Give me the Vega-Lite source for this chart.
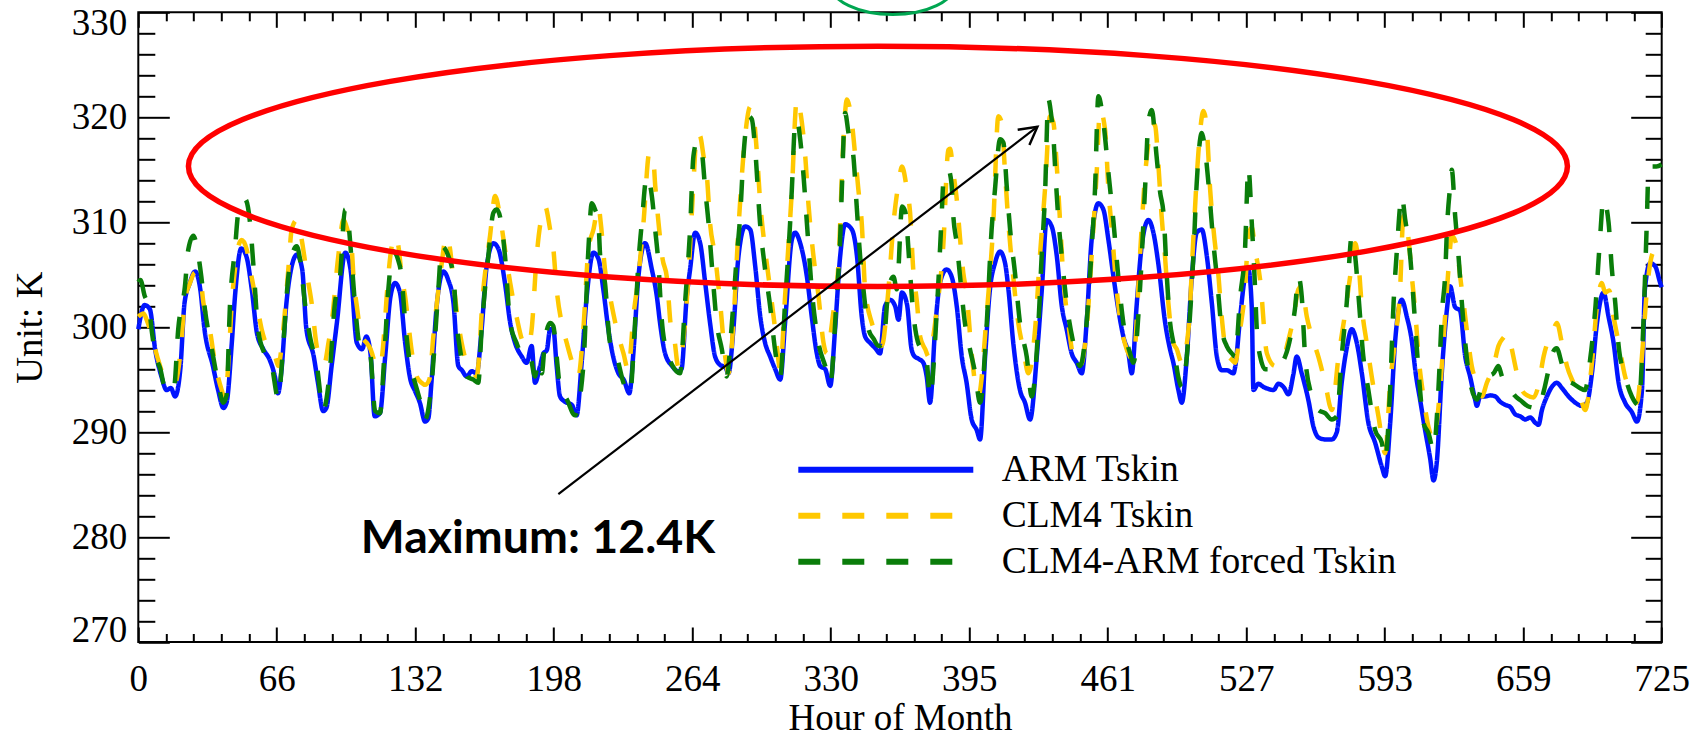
{
  "$schema": "https://vega.github.io/schema/vega-lite/v6.json",
  "width": 1523.4,
  "height": 629.7,
  "autosize": {"type": "none"},
  "padding": {"left": 138.3, "top": 12.3, "right": 38.3, "bottom": 96},
  "background": "white",
  "config": {
    "view": {"stroke": "black", "strokeWidth": 2},
    "axis": {"grid": false, "domain": false, "tickColor": "black", "tickWidth": 2, "labelColor": "black", "titleColor": "black", "labelFont": "Liberation Serif", "titleFont": "Liberation Serif", "labelFontSize": 37, "titleFontSize": 37, "titleFontWeight": "normal", "labelFlush": false, "labelOverlap": false}
  },
  "datasets": {
    "lines": [
      {"series":"ARM Tskin","hour":0,"K":299.8},{"series":"ARM Tskin","hour":3,"K":302.1},{"series":"ARM Tskin","hour":5.5,"K":301.7},{"series":"ARM Tskin","hour":8,"K":297.9},{"series":"ARM Tskin","hour":11,"K":295.3},{"series":"ARM Tskin","hour":13.5,"K":294.0},{"series":"ARM Tskin","hour":15.5,"K":294.2},{"series":"ARM Tskin","hour":17.5,"K":293.4},{"series":"ARM Tskin","hour":20,"K":296},{"series":"ARM Tskin","hour":22,"K":302.3},{"series":"ARM Tskin","hour":24.5,"K":304.2},{"series":"ARM Tskin","hour":27,"K":305.3},{"series":"ARM Tskin","hour":29.5,"K":303.6},{"series":"ARM Tskin","hour":31.5,"K":299.8},{"series":"ARM Tskin","hour":35.5,"K":296.3},{"series":"ARM Tskin","hour":38,"K":294.0},{"series":"ARM Tskin","hour":40.5,"K":292.3},{"series":"ARM Tskin","hour":42,"K":292.8},{"series":"ARM Tskin","hour":44.5,"K":298.5},{"series":"ARM Tskin","hour":46,"K":302.9},{"series":"ARM Tskin","hour":49,"K":307.5},{"series":"ARM Tskin","hour":51.5,"K":306.7},{"series":"ARM Tskin","hour":54,"K":303.6},{"series":"ARM Tskin","hour":56.5,"K":299.4},{"series":"ARM Tskin","hour":59.5,"K":297.9},{"series":"ARM Tskin","hour":62.5,"K":296.9},{"series":"ARM Tskin","hour":65,"K":295.3},{"series":"ARM Tskin","hour":66.5,"K":293.7},{"series":"ARM Tskin","hour":68,"K":295.6},{"series":"ARM Tskin","hour":70.5,"K":302.3},{"series":"ARM Tskin","hour":73,"K":305.8},{"series":"ARM Tskin","hour":75.5,"K":306.9},{"series":"ARM Tskin","hour":78,"K":305.5},{"series":"ARM Tskin","hour":80,"K":299.8},{"series":"ARM Tskin","hour":83.5,"K":297.2},{"series":"ARM Tskin","hour":85.5,"K":294.7},{"series":"ARM Tskin","hour":88,"K":292.0},{"series":"ARM Tskin","hour":89.5,"K":292.3},{"series":"ARM Tskin","hour":92,"K":296.3},{"series":"ARM Tskin","hour":94.5,"K":300.4},{"series":"ARM Tskin","hour":98.5,"K":307.1},{"series":"ARM Tskin","hour":101,"K":305.5},{"series":"ARM Tskin","hour":104,"K":298.5},{"series":"ARM Tskin","hour":106.5,"K":297.9},{"series":"ARM Tskin","hour":108.5,"K":299.1},{"series":"ARM Tskin","hour":110.5,"K":297.5},{"series":"ARM Tskin","hour":112.5,"K":291.5},{"series":"ARM Tskin","hour":115,"K":291.8},{"series":"ARM Tskin","hour":117.5,"K":297.2},{"series":"ARM Tskin","hour":120,"K":302.9},{"series":"ARM Tskin","hour":122.2,"K":304.2},{"series":"ARM Tskin","hour":124.5,"K":303.3},{"series":"ARM Tskin","hour":127,"K":298.5},{"series":"ARM Tskin","hour":129.5,"K":295},{"series":"ARM Tskin","hour":131.5,"K":294},{"series":"ARM Tskin","hour":134,"K":292.8},{"series":"ARM Tskin","hour":136.5,"K":291.0},{"series":"ARM Tskin","hour":138,"K":291.3},{"series":"ARM Tskin","hour":139.5,"K":294.7},{"series":"ARM Tskin","hour":142,"K":302},{"series":"ARM Tskin","hour":145.2,"K":305.3},{"series":"ARM Tskin","hour":147.5,"K":304.5},{"series":"ARM Tskin","hour":150,"K":302.3},{"series":"ARM Tskin","hour":152.3,"K":296.3},{"series":"ARM Tskin","hour":154,"K":295.9},{"series":"ARM Tskin","hour":156.3,"K":295.3},{"series":"ARM Tskin","hour":158.7,"K":295.8},{"series":"ARM Tskin","hour":161,"K":295.6},{"series":"ARM Tskin","hour":163.4,"K":299.8},{"series":"ARM Tskin","hour":165.8,"K":305.8},{"series":"ARM Tskin","hour":169,"K":308.0},{"series":"ARM Tskin","hour":171.5,"K":307.4},{"series":"ARM Tskin","hour":174.5,"K":304.2},{"series":"ARM Tskin","hour":177,"K":300.4},{"series":"ARM Tskin","hour":179.3,"K":298.5},{"series":"ARM Tskin","hour":182.5,"K":297.2},{"series":"ARM Tskin","hour":184.8,"K":296.6},{"series":"ARM Tskin","hour":187.2,"K":298.2},{"series":"ARM Tskin","hour":188.8,"K":294.7},{"series":"ARM Tskin","hour":191.2,"K":296.3},{"series":"ARM Tskin","hour":192.8,"K":297.5},{"series":"ARM Tskin","hour":194.4,"K":297.8},{"series":"ARM Tskin","hour":196,"K":299.8},{"series":"ARM Tskin","hour":197.5,"K":299.8},{"series":"ARM Tskin","hour":199.1,"K":296.3},{"series":"ARM Tskin","hour":200.7,"K":293.4},{"series":"ARM Tskin","hour":203,"K":292.9},{"series":"ARM Tskin","hour":206.3,"K":292.6},{"series":"ARM Tskin","hour":208.6,"K":291.6},{"series":"ARM Tskin","hour":211,"K":296.6},{"series":"ARM Tskin","hour":213.4,"K":302.9},{"series":"ARM Tskin","hour":216.6,"K":307.1},{"series":"ARM Tskin","hour":219,"K":306.5},{"series":"ARM Tskin","hour":221.3,"K":303.6},{"series":"ARM Tskin","hour":223.7,"K":299.8},{"series":"ARM Tskin","hour":226,"K":297.2},{"series":"ARM Tskin","hour":228.5,"K":295.6},{"series":"ARM Tskin","hour":231,"K":295},{"series":"ARM Tskin","hour":233.7,"K":293.7},{"series":"ARM Tskin","hour":235.6,"K":297.5},{"series":"ARM Tskin","hour":238,"K":304.8},{"series":"ARM Tskin","hour":241.2,"K":308},{"series":"ARM Tskin","hour":244.4,"K":305.5},{"series":"ARM Tskin","hour":246.8,"K":302.9},{"series":"ARM Tskin","hour":248.3,"K":300.4},{"series":"ARM Tskin","hour":250.7,"K":297.5},{"series":"ARM Tskin","hour":254,"K":296.3},{"series":"ARM Tskin","hour":257,"K":295.8},{"series":"ARM Tskin","hour":258.5,"K":296},{"series":"ARM Tskin","hour":261,"K":302.9},{"series":"ARM Tskin","hour":262.6,"K":305.5},{"series":"ARM Tskin","hour":265,"K":309},{"series":"ARM Tskin","hour":267.4,"K":308.0},{"series":"ARM Tskin","hour":269.8,"K":304.2},{"series":"ARM Tskin","hour":272.1,"K":300.4},{"series":"ARM Tskin","hour":274.5,"K":297.2},{"series":"ARM Tskin","hour":276.9,"K":296.4},{"series":"ARM Tskin","hour":279.3,"K":296.2},{"series":"ARM Tskin","hour":280.9,"K":295.6},{"series":"ARM Tskin","hour":283.2,"K":299.8},{"series":"ARM Tskin","hour":285.6,"K":306.7},{"series":"ARM Tskin","hour":288.8,"K":309.6},{"series":"ARM Tskin","hour":291.2,"K":309.3},{"series":"ARM Tskin","hour":293.6,"K":305.8},{"series":"ARM Tskin","hour":296,"K":301},{"series":"ARM Tskin","hour":298.3,"K":298.5},{"series":"ARM Tskin","hour":300.7,"K":297.2},{"series":"ARM Tskin","hour":303.1,"K":296.0},{"series":"ARM Tskin","hour":305.5,"K":295.0},{"series":"ARM Tskin","hour":307.8,"K":300.4},{"series":"ARM Tskin","hour":311,"K":308.3},{"series":"ARM Tskin","hour":312.6,"K":309.0},{"series":"ARM Tskin","hour":315,"K":308.0},{"series":"ARM Tskin","hour":318.2,"K":304.8},{"series":"ARM Tskin","hour":320.5,"K":301},{"series":"ARM Tskin","hour":322.9,"K":297.5},{"series":"ARM Tskin","hour":324.5,"K":296.3},{"series":"ARM Tskin","hour":326.9,"K":296.0},{"series":"ARM Tskin","hour":329.3,"K":294.4},{"series":"ARM Tskin","hour":331.6,"K":299.8},{"series":"ARM Tskin","hour":334,"K":306.7},{"series":"ARM Tskin","hour":336.4,"K":309.8},{"series":"ARM Tskin","hour":339.6,"K":309.3},{"series":"ARM Tskin","hour":342,"K":306.8},{"series":"ARM Tskin","hour":344.3,"K":301},{"series":"ARM Tskin","hour":345.9,"K":299.1},{"series":"ARM Tskin","hour":348.3,"K":298.5},{"series":"ARM Tskin","hour":350.7,"K":298.0},{"series":"ARM Tskin","hour":353,"K":297.5},{"series":"ARM Tskin","hour":355.4,"K":302},{"series":"ARM Tskin","hour":357.8,"K":302.6},{"series":"ARM Tskin","hour":360.2,"K":302},{"series":"ARM Tskin","hour":361.8,"K":300.7},{"series":"ARM Tskin","hour":363.4,"K":303.3},{"series":"ARM Tskin","hour":365.8,"K":302.2},{"series":"ARM Tskin","hour":368,"K":297.9},{"series":"ARM Tskin","hour":369.5,"K":297.2},{"series":"ARM Tskin","hour":371.2,"K":297.0},{"series":"ARM Tskin","hour":373.6,"K":296.6},{"series":"ARM Tskin","hour":375.2,"K":295.3},{"series":"ARM Tskin","hour":376.8,"K":292.8},{"series":"ARM Tskin","hour":379.2,"K":299.8},{"series":"ARM Tskin","hour":381.5,"K":304.2},{"series":"ARM Tskin","hour":384.7,"K":305.5},{"series":"ARM Tskin","hour":387.1,"K":304.8},{"series":"ARM Tskin","hour":389.5,"K":302},{"series":"ARM Tskin","hour":391.9,"K":297.2},{"series":"ARM Tskin","hour":394.2,"K":294.7},{"series":"ARM Tskin","hour":396.6,"K":291.2},{"series":"ARM Tskin","hour":399,"K":290.2},{"series":"ARM Tskin","hour":400.6,"K":289.3},{"series":"ARM Tskin","hour":403,"K":297.2},{"series":"ARM Tskin","hour":405.3,"K":303.6},{"series":"ARM Tskin","hour":407.7,"K":306.1},{"series":"ARM Tskin","hour":410.1,"K":307.2},{"series":"ARM Tskin","hour":412.5,"K":306.1},{"series":"ARM Tskin","hour":414.1,"K":303.6},{"series":"ARM Tskin","hour":416.4,"K":298.5},{"series":"ARM Tskin","hour":419.6,"K":294},{"series":"ARM Tskin","hour":422,"K":292.8},{"series":"ARM Tskin","hour":424.4,"K":291.2},{"series":"ARM Tskin","hour":427.6,"K":297.2},{"series":"ARM Tskin","hour":430,"K":303.6},{"series":"ARM Tskin","hour":432.3,"K":310.2},{"series":"ARM Tskin","hour":434.7,"K":309.6},{"series":"ARM Tskin","hour":437.1,"K":306.8},{"series":"ARM Tskin","hour":439.5,"K":302},{"series":"ARM Tskin","hour":441.8,"K":299.8},{"series":"ARM Tskin","hour":444.2,"K":297.5},{"series":"ARM Tskin","hour":446.6,"K":296.6},{"series":"ARM Tskin","hour":449,"K":295.6},{"series":"ARM Tskin","hour":451.3,"K":300.4},{"series":"ARM Tskin","hour":453.7,"K":308.3},{"series":"ARM Tskin","hour":456.9,"K":311.8},{"series":"ARM Tskin","hour":459.3,"K":311.2},{"series":"ARM Tskin","hour":461.7,"K":308.3},{"series":"ARM Tskin","hour":464.1,"K":304.8},{"series":"ARM Tskin","hour":466.4,"K":301.7},{"series":"ARM Tskin","hour":468.8,"K":299.1},{"series":"ARM Tskin","hour":471.2,"K":297.5},{"series":"ARM Tskin","hour":472.8,"K":295.6},{"series":"ARM Tskin","hour":475.1,"K":302},{"series":"ARM Tskin","hour":477.5,"K":307.7},{"series":"ARM Tskin","hour":480.7,"K":310.2},{"series":"ARM Tskin","hour":483.1,"K":309.0},{"series":"ARM Tskin","hour":485.4,"K":306.1},{"series":"ARM Tskin","hour":488.7,"K":300.4},{"series":"ARM Tskin","hour":491,"K":297.9},{"series":"ARM Tskin","hour":492.6,"K":296.6},{"series":"ARM Tskin","hour":495,"K":294.0},{"series":"ARM Tskin","hour":496.6,"K":292.8},{"series":"ARM Tskin","hour":499,"K":297.2},{"series":"ARM Tskin","hour":501.4,"K":304.8},{"series":"ARM Tskin","hour":503.7,"K":309},{"series":"ARM Tskin","hour":506.1,"K":309.3},{"series":"ARM Tskin","hour":508.5,"K":306.8},{"series":"ARM Tskin","hour":510.9,"K":302.3},{"series":"ARM Tskin","hour":513.3,"K":297.2},{"series":"ARM Tskin","hour":515.6,"K":295.9},{"series":"ARM Tskin","hour":518,"K":295.9},{"series":"ARM Tskin","hour":521.2,"K":295.6},{"series":"ARM Tskin","hour":522,"K":296.2},{"series":"ARM Tskin","hour":524.4,"K":301},{"series":"ARM Tskin","hour":526.7,"K":304.8},{"series":"ARM Tskin","hour":528.3,"K":305.5},{"series":"ARM Tskin","hour":529.9,"K":301.9},{"series":"ARM Tskin","hour":530.7,"K":294},{"series":"ARM Tskin","hour":533,"K":294.6},{"series":"ARM Tskin","hour":535.5,"K":294.3},{"series":"ARM Tskin","hour":538,"K":294.1},{"series":"ARM Tskin","hour":540.2,"K":294.0},{"series":"ARM Tskin","hour":542.6,"K":294.6},{"series":"ARM Tskin","hour":545,"K":294.3},{"series":"ARM Tskin","hour":547.4,"K":293.6},{"series":"ARM Tskin","hour":549.7,"K":295.5},{"series":"ARM Tskin","hour":551.3,"K":297.2},{"series":"ARM Tskin","hour":553.7,"K":295.6},{"series":"ARM Tskin","hour":556.9,"K":293},{"series":"ARM Tskin","hour":559.3,"K":290.5},{"series":"ARM Tskin","hour":561.6,"K":289.5},{"series":"ARM Tskin","hour":564.8,"K":289.3},{"series":"ARM Tskin","hour":568,"K":289.3},{"series":"ARM Tskin","hour":570.4,"K":290},{"series":"ARM Tskin","hour":572.7,"K":294.7},{"series":"ARM Tskin","hour":575.1,"K":298},{"series":"ARM Tskin","hour":577.5,"K":299.8},{"series":"ARM Tskin","hour":579.9,"K":298.5},{"series":"ARM Tskin","hour":582.3,"K":295.6},{"series":"ARM Tskin","hour":585.4,"K":290.9},{"series":"ARM Tskin","hour":588.6,"K":289},{"series":"ARM Tskin","hour":591.8,"K":286.7},{"series":"ARM Tskin","hour":593.4,"K":285.8},{"series":"ARM Tskin","hour":595.8,"K":290.9},{"series":"ARM Tskin","hour":598.2,"K":298.8},{"series":"ARM Tskin","hour":601.3,"K":302.6},{"series":"ARM Tskin","hour":603.7,"K":301},{"series":"ARM Tskin","hour":606,"K":298.8},{"series":"ARM Tskin","hour":608,"K":295.5},{"series":"ARM Tskin","hour":610,"K":293.1},{"series":"ARM Tskin","hour":612.4,"K":290.2},{"series":"ARM Tskin","hour":614.8,"K":287.5},{"series":"ARM Tskin","hour":616.4,"K":285.4},{"series":"ARM Tskin","hour":618,"K":287.2},{"series":"ARM Tskin","hour":620.4,"K":295.8},{"series":"ARM Tskin","hour":622.8,"K":301.7},{"series":"ARM Tskin","hour":624.3,"K":303.9},{"series":"ARM Tskin","hour":626.7,"K":301.9},{"series":"ARM Tskin","hour":629,"K":301.6},{"series":"ARM Tskin","hour":631.5,"K":297.2},{"series":"ARM Tskin","hour":633.8,"K":295.3},{"series":"ARM Tskin","hour":636.2,"K":293.1},{"series":"ARM Tskin","hour":637,"K":292.5},{"series":"ARM Tskin","hour":638.6,"K":293.4},{"series":"ARM Tskin","hour":641,"K":293.4},{"series":"ARM Tskin","hour":643.4,"K":293.5},{"series":"ARM Tskin","hour":645.8,"K":293.4},{"series":"ARM Tskin","hour":648.1,"K":292.9},{"series":"ARM Tskin","hour":650.5,"K":292.6},{"series":"ARM Tskin","hour":652.9,"K":292.4},{"series":"ARM Tskin","hour":655.3,"K":291.7},{"series":"ARM Tskin","hour":657.7,"K":291.5},{"series":"ARM Tskin","hour":660.1,"K":291.2},{"series":"ARM Tskin","hour":662.4,"K":291.4},{"series":"ARM Tskin","hour":664.8,"K":290.9},{"series":"ARM Tskin","hour":666.4,"K":290.7},{"series":"ARM Tskin","hour":668,"K":292.1},{"series":"ARM Tskin","hour":670.4,"K":293.4},{"series":"ARM Tskin","hour":672.7,"K":294.3},{"series":"ARM Tskin","hour":675.1,"K":294.7},{"series":"ARM Tskin","hour":677.5,"K":294.2},{"series":"ARM Tskin","hour":680.7,"K":293.4},{"series":"ARM Tskin","hour":683.9,"K":292.8},{"series":"ARM Tskin","hour":687,"K":292.5},{"series":"ARM Tskin","hour":689.4,"K":292.8},{"series":"ARM Tskin","hour":691.8,"K":295.6},{"series":"ARM Tskin","hour":694.2,"K":300.4},{"series":"ARM Tskin","hour":697.3,"K":303.3},{"series":"ARM Tskin","hour":699.7,"K":301.0},{"series":"ARM Tskin","hour":702.1,"K":298.5},{"series":"ARM Tskin","hour":704.5,"K":294.7},{"series":"ARM Tskin","hour":707.6,"K":292.8},{"series":"ARM Tskin","hour":710.8,"K":291.9},{"series":"ARM Tskin","hour":713.2,"K":291.0},{"series":"ARM Tskin","hour":715.6,"K":294},{"series":"ARM Tskin","hour":717,"K":303.6},{"series":"ARM Tskin","hour":719.5,"K":306.1},{"series":"ARM Tskin","hour":721.9,"K":305.8},{"series":"ARM Tskin","hour":724.3,"K":304.2},{"series":"ARM Tskin","hour":725,"K":303.8},

      {"series":"CLM4 Tskin","hour":0,"K":301.0},{"series":"CLM4 Tskin","hour":2.5,"K":301.3},{"series":"CLM4 Tskin","hour":4,"K":300.7},{"series":"CLM4 Tskin","hour":6.5,"K":299.1},{"series":"CLM4 Tskin","hour":9,"K":297.2},{"series":"CLM4 Tskin","hour":12.5,"K":295.3},{"series":"CLM4 Tskin","hour":15.9,"K":295.0},{"series":"CLM4 Tskin","hour":17.5,"K":294.7},{"series":"CLM4 Tskin","hour":20,"K":297.5},{"series":"CLM4 Tskin","hour":22.2,"K":302.6},{"series":"CLM4 Tskin","hour":24.6,"K":304.2},{"series":"CLM4 Tskin","hour":27,"K":305.2},{"series":"CLM4 Tskin","hour":29.4,"K":304.8},{"series":"CLM4 Tskin","hour":31,"K":302.3},{"series":"CLM4 Tskin","hour":34,"K":299.8},{"series":"CLM4 Tskin","hour":36.5,"K":296.6},{"series":"CLM4 Tskin","hour":39.7,"K":294.0},{"series":"CLM4 Tskin","hour":41.3,"K":293.2},{"series":"CLM4 Tskin","hour":43,"K":297},{"series":"CLM4 Tskin","hour":44.4,"K":302},{"series":"CLM4 Tskin","hour":46,"K":305.5},{"series":"CLM4 Tskin","hour":47.6,"K":307.7},{"series":"CLM4 Tskin","hour":49.2,"K":308.3},{"series":"CLM4 Tskin","hour":51.6,"K":307.4},{"series":"CLM4 Tskin","hour":53.9,"K":304.8},{"series":"CLM4 Tskin","hour":56.3,"K":302.3},{"series":"CLM4 Tskin","hour":58.7,"K":299.8},{"series":"CLM4 Tskin","hour":61.9,"K":297.9},{"series":"CLM4 Tskin","hour":65.1,"K":297.2},{"series":"CLM4 Tskin","hour":66.6,"K":296.3},{"series":"CLM4 Tskin","hour":69,"K":299.8},{"series":"CLM4 Tskin","hour":71.4,"K":305.5},{"series":"CLM4 Tskin","hour":73,"K":309.3},{"series":"CLM4 Tskin","hour":75.4,"K":310.2},{"series":"CLM4 Tskin","hour":77.8,"K":308.3},{"series":"CLM4 Tskin","hour":80.1,"K":305.2},{"series":"CLM4 Tskin","hour":82.5,"K":302.3},{"series":"CLM4 Tskin","hour":84.9,"K":298.2},{"series":"CLM4 Tskin","hour":87,"K":296.9},{"series":"CLM4 Tskin","hour":88.5,"K":296.5},{"series":"CLM4 Tskin","hour":90.5,"K":298.5},{"series":"CLM4 Tskin","hour":92,"K":300.4},{"series":"CLM4 Tskin","hour":95.2,"K":306.8},{"series":"CLM4 Tskin","hour":97.6,"K":310.2},{"series":"CLM4 Tskin","hour":99.5,"K":309.3},{"series":"CLM4 Tskin","hour":101.6,"K":307.4},{"series":"CLM4 Tskin","hour":102.4,"K":304.8},{"series":"CLM4 Tskin","hour":104,"K":302},{"series":"CLM4 Tskin","hour":106.3,"K":299.1},{"series":"CLM4 Tskin","hour":108.7,"K":298.5},{"series":"CLM4 Tskin","hour":110.3,"K":298.0},{"series":"CLM4 Tskin","hour":113.5,"K":296.3},{"series":"CLM4 Tskin","hour":115,"K":296.2},{"series":"CLM4 Tskin","hour":117.4,"K":300.5},{"series":"CLM4 Tskin","hour":118.2,"K":302.9},{"series":"CLM4 Tskin","hour":120.6,"K":307.7},{"series":"CLM4 Tskin","hour":122.2,"K":308.7},{"series":"CLM4 Tskin","hour":123.8,"K":307.7},{"series":"CLM4 Tskin","hour":125.4,"K":304.8},{"series":"CLM4 Tskin","hour":127,"K":302.9},{"series":"CLM4 Tskin","hour":128.5,"K":300.4},{"series":"CLM4 Tskin","hour":130,"K":297.9},{"series":"CLM4 Tskin","hour":132.5,"K":295.3},{"series":"CLM4 Tskin","hour":134.8,"K":294.7},{"series":"CLM4 Tskin","hour":136.5,"K":294.5},{"series":"CLM4 Tskin","hour":138.5,"K":295},{"series":"CLM4 Tskin","hour":140.4,"K":299.1},{"series":"CLM4 Tskin","hour":143.6,"K":304.8},{"series":"CLM4 Tskin","hour":146.8,"K":308.7},{"series":"CLM4 Tskin","hour":148.4,"K":307.4},{"series":"CLM4 Tskin","hour":150,"K":304.2},{"series":"CLM4 Tskin","hour":152.3,"K":300.4},{"series":"CLM4 Tskin","hour":153.9,"K":298.5},{"series":"CLM4 Tskin","hour":156.3,"K":296.6},{"series":"CLM4 Tskin","hour":158.7,"K":296.0},{"series":"CLM4 Tskin","hour":161,"K":295.3},{"series":"CLM4 Tskin","hour":164.2,"K":303.6},{"series":"CLM4 Tskin","hour":167.4,"K":308.7},{"series":"CLM4 Tskin","hour":169.8,"K":312.5},{"series":"CLM4 Tskin","hour":172.1,"K":310.6},{"series":"CLM4 Tskin","hour":174.5,"K":307.4},{"series":"CLM4 Tskin","hour":177,"K":304.2},{"series":"CLM4 Tskin","hour":180,"K":301},{"series":"CLM4 Tskin","hour":183.3,"K":298.5},{"series":"CLM4 Tskin","hour":185.6,"K":298.2},{"series":"CLM4 Tskin","hour":187.2,"K":299.8},{"series":"CLM4 Tskin","hour":189.6,"K":306.8},{"series":"CLM4 Tskin","hour":192,"K":310.6},{"series":"CLM4 Tskin","hour":193.6,"K":311.5},{"series":"CLM4 Tskin","hour":196,"K":309.3},{"series":"CLM4 Tskin","hour":197.5,"K":307.5},{"series":"CLM4 Tskin","hour":199.1,"K":303.6},{"series":"CLM4 Tskin","hour":201.5,"K":300.4},{"series":"CLM4 Tskin","hour":203.9,"K":298.5},{"series":"CLM4 Tskin","hour":207.1,"K":296.3},{"series":"CLM4 Tskin","hour":209.4,"K":295.3},{"series":"CLM4 Tskin","hour":211.8,"K":299.8},{"series":"CLM4 Tskin","hour":214.2,"K":307.4},{"series":"CLM4 Tskin","hour":216.6,"K":309.3},{"series":"CLM4 Tskin","hour":219,"K":311.5},{"series":"CLM4 Tskin","hour":220.1,"K":309.9},{"series":"CLM4 Tskin","hour":222.1,"K":305.5},{"series":"CLM4 Tskin","hour":224.5,"K":302.9},{"series":"CLM4 Tskin","hour":227.7,"K":299.8},{"series":"CLM4 Tskin","hour":230.9,"K":297.5},{"series":"CLM4 Tskin","hour":233.2,"K":295.9},{"series":"CLM4 Tskin","hour":235.6,"K":301},{"series":"CLM4 Tskin","hour":238,"K":304.8},{"series":"CLM4 Tskin","hour":240.4,"K":309.9},{"series":"CLM4 Tskin","hour":243.2,"K":316.6},{"series":"CLM4 Tskin","hour":245,"K":316.2},{"series":"CLM4 Tskin","hour":246,"K":313.5},{"series":"CLM4 Tskin","hour":247.6,"K":309.9},{"series":"CLM4 Tskin","hour":249.5,"K":306.5},{"series":"CLM4 Tskin","hour":251.5,"K":304.8},{"series":"CLM4 Tskin","hour":253.5,"K":300},{"series":"CLM4 Tskin","hour":255,"K":299},{"series":"CLM4 Tskin","hour":257,"K":296.2},{"series":"CLM4 Tskin","hour":259,"K":298},{"series":"CLM4 Tskin","hour":261.8,"K":304.8},{"series":"CLM4 Tskin","hour":264.2,"K":313.7},{"series":"CLM4 Tskin","hour":265.8,"K":318.5},{"series":"CLM4 Tskin","hour":267.4,"K":318.2},{"series":"CLM4 Tskin","hour":269,"K":316.3},{"series":"CLM4 Tskin","hour":270.6,"K":314.4},{"series":"CLM4 Tskin","hour":272.1,"K":309.9},{"series":"CLM4 Tskin","hour":274.5,"K":306.8},{"series":"CLM4 Tskin","hour":276.9,"K":302.3},{"series":"CLM4 Tskin","hour":279.3,"K":297.2},{"series":"CLM4 Tskin","hour":280.9,"K":295.6},{"series":"CLM4 Tskin","hour":283.2,"K":300.4},{"series":"CLM4 Tskin","hour":285.6,"K":309.3},{"series":"CLM4 Tskin","hour":288.8,"K":318.2},{"series":"CLM4 Tskin","hour":291.2,"K":321.0},{"series":"CLM4 Tskin","hour":292.8,"K":320.1},{"series":"CLM4 Tskin","hour":294.4,"K":316.6},{"series":"CLM4 Tskin","hour":296,"K":311.8},{"series":"CLM4 Tskin","hour":298.3,"K":307.4},{"series":"CLM4 Tskin","hour":300.7,"K":303.6},{"series":"CLM4 Tskin","hour":303.1,"K":299.8},{"series":"CLM4 Tskin","hour":305.5,"K":296.0},{"series":"CLM4 Tskin","hour":307.8,"K":302.9},{"series":"CLM4 Tskin","hour":311,"K":312.9},{"series":"CLM4 Tskin","hour":313.4,"K":321.7},{"series":"CLM4 Tskin","hour":315.8,"K":319.5},{"series":"CLM4 Tskin","hour":317.4,"K":316.3},{"series":"CLM4 Tskin","hour":318.9,"K":311.8},{"series":"CLM4 Tskin","hour":321.3,"K":306.8},{"series":"CLM4 Tskin","hour":323.7,"K":303},{"series":"CLM4 Tskin","hour":326.1,"K":298.5},{"series":"CLM4 Tskin","hour":327.7,"K":297.5},{"series":"CLM4 Tskin","hour":330.5,"K":301},{"series":"CLM4 Tskin","hour":333.2,"K":306},{"series":"CLM4 Tskin","hour":335.6,"K":317.9},{"series":"CLM4 Tskin","hour":337.2,"K":321.7},{"series":"CLM4 Tskin","hour":339.6,"K":319.5},{"series":"CLM4 Tskin","hour":341.2,"K":316.3},{"series":"CLM4 Tskin","hour":342.7,"K":313.1},{"series":"CLM4 Tskin","hour":344.3,"K":309.9},{"series":"CLM4 Tskin","hour":345.9,"K":303.6},{"series":"CLM4 Tskin","hour":349.1,"K":300.4},{"series":"CLM4 Tskin","hour":351.5,"K":299.1},{"series":"CLM4 Tskin","hour":353.8,"K":298.2},{"series":"CLM4 Tskin","hour":357,"K":303.6},{"series":"CLM4 Tskin","hour":359.4,"K":309.9},{"series":"CLM4 Tskin","hour":361.8,"K":313.7},{"series":"CLM4 Tskin","hour":363.4,"K":315.3},{"series":"CLM4 Tskin","hour":365.8,"K":313.1},{"series":"CLM4 Tskin","hour":367.3,"K":310.9},{"series":"CLM4 Tskin","hour":368.8,"K":305.5},{"series":"CLM4 Tskin","hour":370.5,"K":302.5},{"series":"CLM4 Tskin","hour":372.1,"K":299.1},{"series":"CLM4 Tskin","hour":374.5,"K":297.9},{"series":"CLM4 Tskin","hour":376.1,"K":297.2},{"series":"CLM4 Tskin","hour":379.9,"K":301.5},{"series":"CLM4 Tskin","hour":383.1,"K":307.8},{"series":"CLM4 Tskin","hour":385.5,"K":316.9},{"series":"CLM4 Tskin","hour":386.3,"K":317.0},{"series":"CLM4 Tskin","hour":387.9,"K":314.7},{"series":"CLM4 Tskin","hour":389.5,"K":312.2},{"series":"CLM4 Tskin","hour":391.1,"K":308.4},{"series":"CLM4 Tskin","hour":392.6,"K":305.2},{"series":"CLM4 Tskin","hour":394.2,"K":303.2},{"series":"CLM4 Tskin","hour":396.6,"K":297.5},{"series":"CLM4 Tskin","hour":399.8,"K":293.4},{"series":"CLM4 Tskin","hour":403.8,"K":301.3},{"series":"CLM4 Tskin","hour":406.9,"K":309.9},{"series":"CLM4 Tskin","hour":409.3,"K":320.1},{"series":"CLM4 Tskin","hour":410.9,"K":319.5},{"series":"CLM4 Tskin","hour":412.5,"K":314.7},{"series":"CLM4 Tskin","hour":414.1,"K":309.9},{"series":"CLM4 Tskin","hour":416.4,"K":304.8},{"series":"CLM4 Tskin","hour":418.8,"K":300.4},{"series":"CLM4 Tskin","hour":421.2,"K":297.9},{"series":"CLM4 Tskin","hour":423.6,"K":295.6},{"series":"CLM4 Tskin","hour":426.8,"K":299.8},{"series":"CLM4 Tskin","hour":429.1,"K":306.8},{"series":"CLM4 Tskin","hour":431.5,"K":313.1},{"series":"CLM4 Tskin","hour":433.9,"K":320.1},{"series":"CLM4 Tskin","hour":435.5,"K":319.5},{"series":"CLM4 Tskin","hour":437.1,"K":315.4},{"series":"CLM4 Tskin","hour":438.7,"K":310},{"series":"CLM4 Tskin","hour":440.2,"K":304.8},{"series":"CLM4 Tskin","hour":442.6,"K":300.4},{"series":"CLM4 Tskin","hour":445,"K":297.2},{"series":"CLM4 Tskin","hour":448.2,"K":296.3},{"series":"CLM4 Tskin","hour":451.3,"K":299.8},{"series":"CLM4 Tskin","hour":453.7,"K":306.8},{"series":"CLM4 Tskin","hour":456.1,"K":314.7},{"series":"CLM4 Tskin","hour":457.7,"K":320.7},{"series":"CLM4 Tskin","hour":460.1,"K":318.8},{"series":"CLM4 Tskin","hour":461.7,"K":313.1},{"series":"CLM4 Tskin","hour":463.3,"K":309.3},{"series":"CLM4 Tskin","hour":465.6,"K":303.6},{"series":"CLM4 Tskin","hour":468,"K":299.8},{"series":"CLM4 Tskin","hour":470.4,"K":297.9},{"series":"CLM4 Tskin","hour":473.6,"K":296.9},{"series":"CLM4 Tskin","hour":476.7,"K":306.8},{"series":"CLM4 Tskin","hour":479.1,"K":314.4},{"series":"CLM4 Tskin","hour":480.7,"K":317.5},{"series":"CLM4 Tskin","hour":482.3,"K":319.5},{"series":"CLM4 Tskin","hour":483.9,"K":319.2},{"series":"CLM4 Tskin","hour":485.4,"K":315.7},{"series":"CLM4 Tskin","hour":487,"K":310.6},{"series":"CLM4 Tskin","hour":488.6,"K":306.8},{"series":"CLM4 Tskin","hour":490.2,"K":302.3},{"series":"CLM4 Tskin","hour":492.6,"K":298.5},{"series":"CLM4 Tskin","hour":494.2,"K":297.9},{"series":"CLM4 Tskin","hour":496.6,"K":296.6},{"series":"CLM4 Tskin","hour":499.8,"K":299.8},{"series":"CLM4 Tskin","hour":502.1,"K":308.4},{"series":"CLM4 Tskin","hour":504.5,"K":316.6},{"series":"CLM4 Tskin","hour":506.9,"K":320.6},{"series":"CLM4 Tskin","hour":508.5,"K":318.9},{"series":"CLM4 Tskin","hour":510.1,"K":313.1},{"series":"CLM4 Tskin","hour":511.7,"K":309.3},{"series":"CLM4 Tskin","hour":514.1,"K":304.8},{"series":"CLM4 Tskin","hour":515.6,"K":301},{"series":"CLM4 Tskin","hour":518,"K":297.5},{"series":"CLM4 Tskin","hour":520.4,"K":296.9},{"series":"CLM4 Tskin","hour":522,"K":296.6},{"series":"CLM4 Tskin","hour":524.4,"K":299.8},{"series":"CLM4 Tskin","hour":526.7,"K":303.6},{"series":"CLM4 Tskin","hour":528.3,"K":308.7},{"series":"CLM4 Tskin","hour":529.9,"K":309.5},{"series":"CLM4 Tskin","hour":531.5,"K":307.4},{"series":"CLM4 Tskin","hour":533.9,"K":304.5},{"series":"CLM4 Tskin","hour":537.1,"K":297.5},{"series":"CLM4 Tskin","hour":541,"K":296.3},{"series":"CLM4 Tskin","hour":545,"K":297},{"series":"CLM4 Tskin","hour":547,"K":298.5},{"series":"CLM4 Tskin","hour":549.7,"K":300.8},{"series":"CLM4 Tskin","hour":552.1,"K":303.6},{"series":"CLM4 Tskin","hour":553.7,"K":303.9},{"series":"CLM4 Tskin","hour":556.1,"K":301},{"series":"CLM4 Tskin","hour":558.5,"K":299.1},{"series":"CLM4 Tskin","hour":561.6,"K":297.2},{"series":"CLM4 Tskin","hour":564.8,"K":294.7},{"series":"CLM4 Tskin","hour":568,"K":292.1},{"series":"CLM4 Tskin","hour":571.2,"K":297.2},{"series":"CLM4 Tskin","hour":574.3,"K":301.3},{"series":"CLM4 Tskin","hour":576.7,"K":304.8},{"series":"CLM4 Tskin","hour":579.1,"K":308},{"series":"CLM4 Tskin","hour":580.7,"K":306.1},{"series":"CLM4 Tskin","hour":582.3,"K":301.9},{"series":"CLM4 Tskin","hour":584.6,"K":298.5},{"series":"CLM4 Tskin","hour":587,"K":295.3},{"series":"CLM4 Tskin","hour":590.2,"K":291.5},{"series":"CLM4 Tskin","hour":593.4,"K":288.0},{"series":"CLM4 Tskin","hour":595.8,"K":294.7},{"series":"CLM4 Tskin","hour":598.2,"K":298.8},{"series":"CLM4 Tskin","hour":600.5,"K":303.6},{"series":"CLM4 Tskin","hour":602.1,"K":310.6},{"series":"CLM4 Tskin","hour":604.5,"K":308.4},{"series":"CLM4 Tskin","hour":606.1,"K":304.8},{"series":"CLM4 Tskin","hour":607.7,"K":301.5},{"series":"CLM4 Tskin","hour":609.3,"K":297.2},{"series":"CLM4 Tskin","hour":611.6,"K":293.4},{"series":"CLM4 Tskin","hour":614,"K":290.5},{"series":"CLM4 Tskin","hour":616.4,"K":289.3},{"series":"CLM4 Tskin","hour":619.6,"K":294.3},{"series":"CLM4 Tskin","hour":622,"K":301.3},{"series":"CLM4 Tskin","hour":623.5,"K":305.5},{"series":"CLM4 Tskin","hour":625.1,"K":308.7},{"series":"CLM4 Tskin","hour":627.5,"K":307.7},{"series":"CLM4 Tskin","hour":629.1,"K":304.8},{"series":"CLM4 Tskin","hour":630.7,"K":302.3},{"series":"CLM4 Tskin","hour":632.2,"K":299.8},{"series":"CLM4 Tskin","hour":634.6,"K":296.3},{"series":"CLM4 Tskin","hour":637,"K":294.7},{"series":"CLM4 Tskin","hour":639.4,"K":293.4},{"series":"CLM4 Tskin","hour":641.8,"K":294.7},{"series":"CLM4 Tskin","hour":645,"K":296.3},{"series":"CLM4 Tskin","hour":647.3,"K":298.2},{"series":"CLM4 Tskin","hour":649.7,"K":299},{"series":"CLM4 Tskin","hour":652.1,"K":299.4},{"series":"CLM4 Tskin","hour":653.7,"K":297.9},{"series":"CLM4 Tskin","hour":656.1,"K":295.6},{"series":"CLM4 Tskin","hour":658.5,"K":294.0},{"series":"CLM4 Tskin","hour":661,"K":293.5},{"series":"CLM4 Tskin","hour":664,"K":293.3},{"series":"CLM4 Tskin","hour":666.4,"K":294.5},{"series":"CLM4 Tskin","hour":668.8,"K":297.2},{"series":"CLM4 Tskin","hour":671.1,"K":298.8},{"series":"CLM4 Tskin","hour":673.5,"K":299.8},{"series":"CLM4 Tskin","hour":675.1,"K":300.4},{"series":"CLM4 Tskin","hour":677.5,"K":298.5},{"series":"CLM4 Tskin","hour":679.9,"K":296.3},{"series":"CLM4 Tskin","hour":683,"K":294.7},{"series":"CLM4 Tskin","hour":686.2,"K":293.4},{"series":"CLM4 Tskin","hour":688.6,"K":292.1},{"series":"CLM4 Tskin","hour":691.8,"K":296.6},{"series":"CLM4 Tskin","hour":694.2,"K":302},{"series":"CLM4 Tskin","hour":696.5,"K":304.2},{"series":"CLM4 Tskin","hour":698.1,"K":303.3},{"series":"CLM4 Tskin","hour":700,"K":303.5},{"series":"CLM4 Tskin","hour":702.1,"K":301},{"series":"CLM4 Tskin","hour":704.5,"K":298.5},{"series":"CLM4 Tskin","hour":707.6,"K":295.3},{"series":"CLM4 Tskin","hour":710.8,"K":293.7},{"series":"CLM4 Tskin","hour":713.2,"K":292.8},{"series":"CLM4 Tskin","hour":715.6,"K":297.2},{"series":"CLM4 Tskin","hour":718,"K":303.6},{"series":"CLM4 Tskin","hour":721.1,"K":307.1},{"series":"CLM4 Tskin","hour":723.5,"K":306.8},{"series":"CLM4 Tskin","hour":725,"K":306.5},

      {"series":"CLM4-ARM forced Tskin","hour":0,"K":304.3},{"series":"CLM4-ARM forced Tskin","hour":1,"K":304.5},{"series":"CLM4-ARM forced Tskin","hour":3,"K":303.0},{"series":"CLM4-ARM forced Tskin","hour":5,"K":302.0},{"series":"CLM4-ARM forced Tskin","hour":6.5,"K":299.5},{"series":"CLM4-ARM forced Tskin","hour":8,"K":297.5},{"series":"CLM4-ARM forced Tskin","hour":10.5,"K":296.0},{"series":"CLM4-ARM forced Tskin","hour":12.7,"K":294.3},{"series":"CLM4-ARM forced Tskin","hour":14.5,"K":294.8},{"series":"CLM4-ARM forced Tskin","hour":17,"K":294.3},{"series":"CLM4-ARM forced Tskin","hour":19,"K":299.8},{"series":"CLM4-ARM forced Tskin","hour":22.2,"K":303.9},{"series":"CLM4-ARM forced Tskin","hour":23.8,"K":307.4},{"series":"CLM4-ARM forced Tskin","hour":26.2,"K":308.7},{"series":"CLM4-ARM forced Tskin","hour":28.6,"K":306.8},{"series":"CLM4-ARM forced Tskin","hour":30,"K":304.8},{"series":"CLM4-ARM forced Tskin","hour":31.7,"K":301.7},{"series":"CLM4-ARM forced Tskin","hour":35,"K":297.9},{"series":"CLM4-ARM forced Tskin","hour":38,"K":294.7},{"series":"CLM4-ARM forced Tskin","hour":40.5,"K":292.8},{"series":"CLM4-ARM forced Tskin","hour":42,"K":293.5},{"series":"CLM4-ARM forced Tskin","hour":43.6,"K":302},{"series":"CLM4-ARM forced Tskin","hour":46,"K":307.4},{"series":"CLM4-ARM forced Tskin","hour":47.6,"K":310.9},{"series":"CLM4-ARM forced Tskin","hour":50.8,"K":312.2},{"series":"CLM4-ARM forced Tskin","hour":53.2,"K":309.9},{"series":"CLM4-ARM forced Tskin","hour":54.7,"K":306.1},{"series":"CLM4-ARM forced Tskin","hour":57,"K":299.8},{"series":"CLM4-ARM forced Tskin","hour":60,"K":297.5},{"series":"CLM4-ARM forced Tskin","hour":63.5,"K":296.3},{"series":"CLM4-ARM forced Tskin","hour":66.6,"K":293.2},{"series":"CLM4-ARM forced Tskin","hour":69,"K":298.4},{"series":"CLM4-ARM forced Tskin","hour":71.4,"K":304.8},{"series":"CLM4-ARM forced Tskin","hour":73,"K":306.7},{"series":"CLM4-ARM forced Tskin","hour":75.4,"K":307.7},{"series":"CLM4-ARM forced Tskin","hour":77,"K":306.4},{"series":"CLM4-ARM forced Tskin","hour":79.3,"K":302.3},{"series":"CLM4-ARM forced Tskin","hour":81.7,"K":299.1},{"series":"CLM4-ARM forced Tskin","hour":85,"K":296.3},{"series":"CLM4-ARM forced Tskin","hour":88,"K":292.1},{"series":"CLM4-ARM forced Tskin","hour":91,"K":295.5},{"series":"CLM4-ARM forced Tskin","hour":93.6,"K":302.3},{"series":"CLM4-ARM forced Tskin","hour":96,"K":304.8},{"series":"CLM4-ARM forced Tskin","hour":98.4,"K":311.2},{"series":"CLM4-ARM forced Tskin","hour":100,"K":309.9},{"series":"CLM4-ARM forced Tskin","hour":101.6,"K":306.1},{"series":"CLM4-ARM forced Tskin","hour":103.2,"K":302},{"series":"CLM4-ARM forced Tskin","hour":105.5,"K":298.2},{"series":"CLM4-ARM forced Tskin","hour":108,"K":297.9},{"series":"CLM4-ARM forced Tskin","hour":110.3,"K":297.5},{"series":"CLM4-ARM forced Tskin","hour":112.7,"K":292},{"series":"CLM4-ARM forced Tskin","hour":115,"K":291.8},{"series":"CLM4-ARM forced Tskin","hour":117,"K":297},{"series":"CLM4-ARM forced Tskin","hour":119,"K":303.6},{"series":"CLM4-ARM forced Tskin","hour":121.4,"K":307.2},{"series":"CLM4-ARM forced Tskin","hour":123.5,"K":306.5},{"series":"CLM4-ARM forced Tskin","hour":125.3,"K":304.8},{"series":"CLM4-ARM forced Tskin","hour":127,"K":300.5},{"series":"CLM4-ARM forced Tskin","hour":129.3,"K":296.5},{"series":"CLM4-ARM forced Tskin","hour":131.7,"K":294.7},{"series":"CLM4-ARM forced Tskin","hour":134.1,"K":293},{"series":"CLM4-ARM forced Tskin","hour":136.5,"K":291.2},{"series":"CLM4-ARM forced Tskin","hour":139.6,"K":294.7},{"series":"CLM4-ARM forced Tskin","hour":142.8,"K":303.6},{"series":"CLM4-ARM forced Tskin","hour":144.4,"K":307.7},{"series":"CLM4-ARM forced Tskin","hour":147.5,"K":306.8},{"series":"CLM4-ARM forced Tskin","hour":150,"K":304.8},{"series":"CLM4-ARM forced Tskin","hour":151.5,"K":300.4},{"series":"CLM4-ARM forced Tskin","hour":153.1,"K":297.9},{"series":"CLM4-ARM forced Tskin","hour":156.3,"K":295.3},{"series":"CLM4-ARM forced Tskin","hour":159.5,"K":295},{"series":"CLM4-ARM forced Tskin","hour":161.8,"K":294.7},{"series":"CLM4-ARM forced Tskin","hour":163.4,"K":299.8},{"series":"CLM4-ARM forced Tskin","hour":166.6,"K":306.8},{"series":"CLM4-ARM forced Tskin","hour":169,"K":310.9},{"series":"CLM4-ARM forced Tskin","hour":170.6,"K":311.2},{"series":"CLM4-ARM forced Tskin","hour":173,"K":309.6},{"series":"CLM4-ARM forced Tskin","hour":174.5,"K":306.8},{"series":"CLM4-ARM forced Tskin","hour":177,"K":300.4},{"series":"CLM4-ARM forced Tskin","hour":180,"K":298.5},{"series":"CLM4-ARM forced Tskin","hour":183.3,"K":297.2},{"series":"CLM4-ARM forced Tskin","hour":186.4,"K":297.2},{"series":"CLM4-ARM forced Tskin","hour":188.8,"K":295.3},{"series":"CLM4-ARM forced Tskin","hour":190.4,"K":296.8},{"series":"CLM4-ARM forced Tskin","hour":192,"K":295.6},{"series":"CLM4-ARM forced Tskin","hour":193.6,"K":298.8},{"series":"CLM4-ARM forced Tskin","hour":196,"K":300.4},{"series":"CLM4-ARM forced Tskin","hour":197.5,"K":300.1},{"series":"CLM4-ARM forced Tskin","hour":199.1,"K":297.2},{"series":"CLM4-ARM forced Tskin","hour":200.7,"K":294.3},{"series":"CLM4-ARM forced Tskin","hour":204,"K":293.1},{"series":"CLM4-ARM forced Tskin","hour":207.8,"K":291.6},{"series":"CLM4-ARM forced Tskin","hour":211.8,"K":296.3},{"series":"CLM4-ARM forced Tskin","hour":214.2,"K":307.4},{"series":"CLM4-ARM forced Tskin","hour":215.8,"K":311.8},{"series":"CLM4-ARM forced Tskin","hour":217.4,"K":311.2},{"series":"CLM4-ARM forced Tskin","hour":219,"K":309.9},{"series":"CLM4-ARM forced Tskin","hour":219.8,"K":306.8},{"series":"CLM4-ARM forced Tskin","hour":222.1,"K":304.2},{"series":"CLM4-ARM forced Tskin","hour":224.5,"K":298.5},{"series":"CLM4-ARM forced Tskin","hour":227.7,"K":297.2},{"series":"CLM4-ARM forced Tskin","hour":230.9,"K":294.7},{"series":"CLM4-ARM forced Tskin","hour":234,"K":293.7},{"series":"CLM4-ARM forced Tskin","hour":236.4,"K":300.4},{"series":"CLM4-ARM forced Tskin","hour":238,"K":306.1},{"series":"CLM4-ARM forced Tskin","hour":239.6,"K":309.9},{"series":"CLM4-ARM forced Tskin","hour":242,"K":314.4},{"series":"CLM4-ARM forced Tskin","hour":244.4,"K":312.5},{"series":"CLM4-ARM forced Tskin","hour":246,"K":309.3},{"series":"CLM4-ARM forced Tskin","hour":247.5,"K":306.1},{"series":"CLM4-ARM forced Tskin","hour":249,"K":301},{"series":"CLM4-ARM forced Tskin","hour":251,"K":297.9},{"series":"CLM4-ARM forced Tskin","hour":253.5,"K":296.6},{"series":"CLM4-ARM forced Tskin","hour":257.8,"K":295.6},{"series":"CLM4-ARM forced Tskin","hour":260.2,"K":302.3},{"series":"CLM4-ARM forced Tskin","hour":262.6,"K":309.3},{"series":"CLM4-ARM forced Tskin","hour":264.2,"K":316.3},{"series":"CLM4-ARM forced Tskin","hour":265.8,"K":317.6},{"series":"CLM4-ARM forced Tskin","hour":268.2,"K":316.6},{"series":"CLM4-ARM forced Tskin","hour":269.8,"K":313.1},{"series":"CLM4-ARM forced Tskin","hour":271.4,"K":309.9},{"series":"CLM4-ARM forced Tskin","hour":273,"K":305.8},{"series":"CLM4-ARM forced Tskin","hour":275.3,"K":300.4},{"series":"CLM4-ARM forced Tskin","hour":277.7,"K":297.9},{"series":"CLM4-ARM forced Tskin","hour":280,"K":295.3},{"series":"CLM4-ARM forced Tskin","hour":282.5,"K":300.4},{"series":"CLM4-ARM forced Tskin","hour":284.8,"K":306.7},{"series":"CLM4-ARM forced Tskin","hour":286.4,"K":310.5},{"series":"CLM4-ARM forced Tskin","hour":288,"K":316.3},{"series":"CLM4-ARM forced Tskin","hour":290.4,"K":320.1},{"series":"CLM4-ARM forced Tskin","hour":292,"K":319.8},{"series":"CLM4-ARM forced Tskin","hour":293.6,"K":316.9},{"series":"CLM4-ARM forced Tskin","hour":295.9,"K":309.9},{"series":"CLM4-ARM forced Tskin","hour":298.3,"K":305.5},{"series":"CLM4-ARM forced Tskin","hour":300.7,"K":302},{"series":"CLM4-ARM forced Tskin","hour":303,"K":297.9},{"series":"CLM4-ARM forced Tskin","hour":305.5,"K":295.3},{"series":"CLM4-ARM forced Tskin","hour":307.8,"K":302.3},{"series":"CLM4-ARM forced Tskin","hour":310.2,"K":309.9},{"series":"CLM4-ARM forced Tskin","hour":311,"K":313},{"series":"CLM4-ARM forced Tskin","hour":312.6,"K":319.5},{"series":"CLM4-ARM forced Tskin","hour":313.4,"K":319.8},{"series":"CLM4-ARM forced Tskin","hour":315,"K":317.9},{"series":"CLM4-ARM forced Tskin","hour":316.6,"K":314.4},{"series":"CLM4-ARM forced Tskin","hour":318.2,"K":309.9},{"series":"CLM4-ARM forced Tskin","hour":320.5,"K":303.6},{"series":"CLM4-ARM forced Tskin","hour":323.7,"K":298.5},{"series":"CLM4-ARM forced Tskin","hour":326.9,"K":296.3},{"series":"CLM4-ARM forced Tskin","hour":329.3,"K":294.7},{"series":"CLM4-ARM forced Tskin","hour":332.4,"K":303},{"series":"CLM4-ARM forced Tskin","hour":334,"K":308.3},{"series":"CLM4-ARM forced Tskin","hour":334.8,"K":313},{"series":"CLM4-ARM forced Tskin","hour":336.4,"K":320.4},{"series":"CLM4-ARM forced Tskin","hour":338,"K":318.5},{"series":"CLM4-ARM forced Tskin","hour":340.3,"K":316.3},{"series":"CLM4-ARM forced Tskin","hour":341.9,"K":311.5},{"series":"CLM4-ARM forced Tskin","hour":343.5,"K":306.8},{"series":"CLM4-ARM forced Tskin","hour":345.1,"K":303.6},{"series":"CLM4-ARM forced Tskin","hour":347.5,"K":299.8},{"series":"CLM4-ARM forced Tskin","hour":349.9,"K":298.9},{"series":"CLM4-ARM forced Tskin","hour":352.3,"K":298.2},{"series":"CLM4-ARM forced Tskin","hour":354.6,"K":298.5},{"series":"CLM4-ARM forced Tskin","hour":357,"K":303.6},{"series":"CLM4-ARM forced Tskin","hour":359.4,"K":304.8},{"series":"CLM4-ARM forced Tskin","hour":361,"K":303.6},{"series":"CLM4-ARM forced Tskin","hour":363.5,"K":311.5},{"series":"CLM4-ARM forced Tskin","hour":365,"K":311.0},{"series":"CLM4-ARM forced Tskin","hour":367,"K":306},{"series":"CLM4-ARM forced Tskin","hour":368.5,"K":302},{"series":"CLM4-ARM forced Tskin","hour":371,"K":298.6},{"series":"CLM4-ARM forced Tskin","hour":373,"K":297.9},{"series":"CLM4-ARM forced Tskin","hour":375,"K":297.2},{"series":"CLM4-ARM forced Tskin","hour":376.8,"K":293.4},{"series":"CLM4-ARM forced Tskin","hour":380,"K":301.5},{"series":"CLM4-ARM forced Tskin","hour":382.3,"K":310.5},{"series":"CLM4-ARM forced Tskin","hour":383.1,"K":313.7},{"series":"CLM4-ARM forced Tskin","hour":385.5,"K":315},{"series":"CLM4-ARM forced Tskin","hour":387,"K":313.7},{"series":"CLM4-ARM forced Tskin","hour":387.9,"K":310.5},{"series":"CLM4-ARM forced Tskin","hour":389.5,"K":308},{"series":"CLM4-ARM forced Tskin","hour":391,"K":305},{"series":"CLM4-ARM forced Tskin","hour":393.4,"K":300.4},{"series":"CLM4-ARM forced Tskin","hour":395.8,"K":297.9},{"series":"CLM4-ARM forced Tskin","hour":398.2,"K":295.7},{"series":"CLM4-ARM forced Tskin","hour":400.6,"K":292.8},{"series":"CLM4-ARM forced Tskin","hour":403.8,"K":300.4},{"series":"CLM4-ARM forced Tskin","hour":406.1,"K":309.3},{"series":"CLM4-ARM forced Tskin","hour":407.7,"K":313.1},{"series":"CLM4-ARM forced Tskin","hour":410.1,"K":317.9},{"series":"CLM4-ARM forced Tskin","hour":411.7,"K":317.6},{"series":"CLM4-ARM forced Tskin","hour":413.3,"K":313.4},{"series":"CLM4-ARM forced Tskin","hour":414.9,"K":309.3},{"series":"CLM4-ARM forced Tskin","hour":417.2,"K":305.2},{"series":"CLM4-ARM forced Tskin","hour":419.6,"K":300.4},{"series":"CLM4-ARM forced Tskin","hour":422.8,"K":297.2},{"series":"CLM4-ARM forced Tskin","hour":425.2,"K":293.4},{"series":"CLM4-ARM forced Tskin","hour":428.4,"K":300.4},{"series":"CLM4-ARM forced Tskin","hour":429.9,"K":306.7},{"series":"CLM4-ARM forced Tskin","hour":431.5,"K":312.5},{"series":"CLM4-ARM forced Tskin","hour":433.1,"K":321.7},{"series":"CLM4-ARM forced Tskin","hour":434.7,"K":319.8},{"series":"CLM4-ARM forced Tskin","hour":435.5,"K":318.2},{"series":"CLM4-ARM forced Tskin","hour":436.3,"K":315.3},{"series":"CLM4-ARM forced Tskin","hour":437.9,"K":310.2},{"series":"CLM4-ARM forced Tskin","hour":439.5,"K":306.7},{"series":"CLM4-ARM forced Tskin","hour":441.8,"K":302.3},{"series":"CLM4-ARM forced Tskin","hour":445,"K":298.5},{"series":"CLM4-ARM forced Tskin","hour":448.2,"K":296.3},{"series":"CLM4-ARM forced Tskin","hour":451.3,"K":300.4},{"series":"CLM4-ARM forced Tskin","hour":453.7,"K":307.4},{"series":"CLM4-ARM forced Tskin","hour":455.3,"K":313.1},{"series":"CLM4-ARM forced Tskin","hour":456.9,"K":322.0},{"series":"CLM4-ARM forced Tskin","hour":459.3,"K":319.5},{"series":"CLM4-ARM forced Tskin","hour":461.7,"K":314.7},{"series":"CLM4-ARM forced Tskin","hour":464.1,"K":310},{"series":"CLM4-ARM forced Tskin","hour":466.4,"K":304.8},{"series":"CLM4-ARM forced Tskin","hour":468.8,"K":300.4},{"series":"CLM4-ARM forced Tskin","hour":472,"K":297.5},{"series":"CLM4-ARM forced Tskin","hour":473.6,"K":296.6},{"series":"CLM4-ARM forced Tskin","hour":476.7,"K":303.6},{"series":"CLM4-ARM forced Tskin","hour":479.1,"K":313.1},{"series":"CLM4-ARM forced Tskin","hour":480.7,"K":319.5},{"series":"CLM4-ARM forced Tskin","hour":482.3,"K":320.7},{"series":"CLM4-ARM forced Tskin","hour":484.6,"K":316.3},{"series":"CLM4-ARM forced Tskin","hour":486.2,"K":313},{"series":"CLM4-ARM forced Tskin","hour":488,"K":310.6},{"series":"CLM4-ARM forced Tskin","hour":489.5,"K":304.8},{"series":"CLM4-ARM forced Tskin","hour":491,"K":300.5},{"series":"CLM4-ARM forced Tskin","hour":492.6,"K":298.5},{"series":"CLM4-ARM forced Tskin","hour":495,"K":295.2},{"series":"CLM4-ARM forced Tskin","hour":496.6,"K":294.3},{"series":"CLM4-ARM forced Tskin","hour":499.8,"K":299.1},{"series":"CLM4-ARM forced Tskin","hour":502.1,"K":306.7},{"series":"CLM4-ARM forced Tskin","hour":503.7,"K":313.7},{"series":"CLM4-ARM forced Tskin","hour":506.1,"K":318.5},{"series":"CLM4-ARM forced Tskin","hour":507.7,"K":316.9},{"series":"CLM4-ARM forced Tskin","hour":509.3,"K":313.7},{"series":"CLM4-ARM forced Tskin","hour":511.7,"K":307.9},{"series":"CLM4-ARM forced Tskin","hour":513.3,"K":304.8},{"series":"CLM4-ARM forced Tskin","hour":515.6,"K":299.8},{"series":"CLM4-ARM forced Tskin","hour":518,"K":298.2},{"series":"CLM4-ARM forced Tskin","hour":520.4,"K":297.5},{"series":"CLM4-ARM forced Tskin","hour":522,"K":297.2},{"series":"CLM4-ARM forced Tskin","hour":524.4,"K":302.9},{"series":"CLM4-ARM forced Tskin","hour":526.7,"K":307.4},{"series":"CLM4-ARM forced Tskin","hour":528.3,"K":315.2},{"series":"CLM4-ARM forced Tskin","hour":529.9,"K":310},{"series":"CLM4-ARM forced Tskin","hour":531.5,"K":303.6},{"series":"CLM4-ARM forced Tskin","hour":532.3,"K":299.8},{"series":"CLM4-ARM forced Tskin","hour":533.9,"K":297.2},{"series":"CLM4-ARM forced Tskin","hour":536.3,"K":296.0},{"series":"CLM4-ARM forced Tskin","hour":538.6,"K":296.0},{"series":"CLM4-ARM forced Tskin","hour":541,"K":296.5},{"series":"CLM4-ARM forced Tskin","hour":543.4,"K":296.5},{"series":"CLM4-ARM forced Tskin","hour":545.8,"K":297.2},{"series":"CLM4-ARM forced Tskin","hour":549,"K":299.8},{"series":"CLM4-ARM forced Tskin","hour":550.5,"K":301.8},{"series":"CLM4-ARM forced Tskin","hour":552.1,"K":304.8},{"series":"CLM4-ARM forced Tskin","hour":553.7,"K":302.9},{"series":"CLM4-ARM forced Tskin","hour":555.3,"K":297.2},{"series":"CLM4-ARM forced Tskin","hour":558.5,"K":293.4},{"series":"CLM4-ARM forced Tskin","hour":561.6,"K":292.1},{"series":"CLM4-ARM forced Tskin","hour":564.8,"K":291.8},{"series":"CLM4-ARM forced Tskin","hour":568,"K":291.2},{"series":"CLM4-ARM forced Tskin","hour":570.4,"K":291.5},{"series":"CLM4-ARM forced Tskin","hour":572.7,"K":297.2},{"series":"CLM4-ARM forced Tskin","hour":575.1,"K":302.3},{"series":"CLM4-ARM forced Tskin","hour":577.5,"K":308.7},{"series":"CLM4-ARM forced Tskin","hour":579.1,"K":306.8},{"series":"CLM4-ARM forced Tskin","hour":580.7,"K":303},{"series":"CLM4-ARM forced Tskin","hour":583,"K":297.2},{"series":"CLM4-ARM forced Tskin","hour":585.4,"K":294.0},{"series":"CLM4-ARM forced Tskin","hour":588.6,"K":290.2},{"series":"CLM4-ARM forced Tskin","hour":591.8,"K":289.0},{"series":"CLM4-ARM forced Tskin","hour":593.4,"K":287.4},{"series":"CLM4-ARM forced Tskin","hour":595.8,"K":294.3},{"series":"CLM4-ARM forced Tskin","hour":597.4,"K":302.3},{"series":"CLM4-ARM forced Tskin","hour":598.9,"K":307.1},{"series":"CLM4-ARM forced Tskin","hour":601.3,"K":312.5},{"series":"CLM4-ARM forced Tskin","hour":602.9,"K":310.3},{"series":"CLM4-ARM forced Tskin","hour":605.3,"K":306.8},{"series":"CLM4-ARM forced Tskin","hour":606.9,"K":302.5},{"series":"CLM4-ARM forced Tskin","hour":608.5,"K":297.9},{"series":"CLM4-ARM forced Tskin","hour":610,"K":294},{"series":"CLM4-ARM forced Tskin","hour":611.6,"K":290.9},{"series":"CLM4-ARM forced Tskin","hour":614,"K":289.9},{"series":"CLM4-ARM forced Tskin","hour":616.4,"K":288.3},{"series":"CLM4-ARM forced Tskin","hour":618.8,"K":294.3},{"series":"CLM4-ARM forced Tskin","hour":620.4,"K":301.3},{"series":"CLM4-ARM forced Tskin","hour":622,"K":305.2},{"series":"CLM4-ARM forced Tskin","hour":622.8,"K":309.3},{"series":"CLM4-ARM forced Tskin","hour":624.3,"K":313.4},{"series":"CLM4-ARM forced Tskin","hour":625.1,"K":315.0},{"series":"CLM4-ARM forced Tskin","hour":626.7,"K":310.6},{"series":"CLM4-ARM forced Tskin","hour":628.3,"K":306.8},{"series":"CLM4-ARM forced Tskin","hour":629.9,"K":302.3},{"series":"CLM4-ARM forced Tskin","hour":631.5,"K":298.5},{"series":"CLM4-ARM forced Tskin","hour":633.9,"K":294.7},{"series":"CLM4-ARM forced Tskin","hour":637,"K":293.1},{"series":"CLM4-ARM forced Tskin","hour":639.4,"K":294.3},{"series":"CLM4-ARM forced Tskin","hour":642.6,"K":295.3},{"series":"CLM4-ARM forced Tskin","hour":645,"K":295.6},{"series":"CLM4-ARM forced Tskin","hour":647.3,"K":296.3},{"series":"CLM4-ARM forced Tskin","hour":649,"K":295.3},{"series":"CLM4-ARM forced Tskin","hour":652,"K":294.5},{"series":"CLM4-ARM forced Tskin","hour":655,"K":293.5},{"series":"CLM4-ARM forced Tskin","hour":658,"K":293},{"series":"CLM4-ARM forced Tskin","hour":661,"K":292.5},{"series":"CLM4-ARM forced Tskin","hour":664,"K":292.3},{"series":"CLM4-ARM forced Tskin","hour":666.2,"K":292.2},{"series":"CLM4-ARM forced Tskin","hour":669,"K":294},{"series":"CLM4-ARM forced Tskin","hour":671,"K":295.8},{"series":"CLM4-ARM forced Tskin","hour":673,"K":297.5},{"series":"CLM4-ARM forced Tskin","hour":675,"K":298},{"series":"CLM4-ARM forced Tskin","hour":677.5,"K":296.5},{"series":"CLM4-ARM forced Tskin","hour":680,"K":295},{"series":"CLM4-ARM forced Tskin","hour":683,"K":294.6},{"series":"CLM4-ARM forced Tskin","hour":686,"K":294.2},{"series":"CLM4-ARM forced Tskin","hour":688.5,"K":294},{"series":"CLM4-ARM forced Tskin","hour":691,"K":297},{"series":"CLM4-ARM forced Tskin","hour":693.5,"K":302},{"series":"CLM4-ARM forced Tskin","hour":695.5,"K":308},{"series":"CLM4-ARM forced Tskin","hour":697.3,"K":312.2},{"series":"CLM4-ARM forced Tskin","hour":699.7,"K":310},{"series":"CLM4-ARM forced Tskin","hour":701.3,"K":305.5},{"series":"CLM4-ARM forced Tskin","hour":702.9,"K":302.3},{"series":"CLM4-ARM forced Tskin","hour":704.5,"K":298.2},{"series":"CLM4-ARM forced Tskin","hour":707.6,"K":295.3},{"series":"CLM4-ARM forced Tskin","hour":710.8,"K":293.4},{"series":"CLM4-ARM forced Tskin","hour":714,"K":292.6},{"series":"CLM4-ARM forced Tskin","hour":716.3,"K":300.4},{"series":"CLM4-ARM forced Tskin","hour":717.9,"K":309.9},{"series":"CLM4-ARM forced Tskin","hour":718.7,"K":314.7},{"series":"CLM4-ARM forced Tskin","hour":720.5,"K":315.3},{"series":"CLM4-ARM forced Tskin","hour":722.5,"K":315.3},{"series":"CLM4-ARM forced Tskin","hour":725,"K":315.5}
    ],
    "redEllipse": [{"hour": 352.0, "K": 315.32}],
    "greenEllipse": [{"hour": 359.0, "K": 332.65}],
    "arrow": [{"hour": 199.9, "K": 284.1, "hour2": 427.9, "K2": 319.1}],
    "note": [{"hour": 105.9, "K": 278.5, "text": "Maximum: 12.4K"}]
  },
  "resolve": {"axis": {"x": "independent", "y": "independent"}},
  "layer": [
    {
      "data": {"name": "lines"},
      "mark": {"type": "line", "strokeWidth": 4.5, "interpolate": "monotone", "strokeJoin": "round"},
      "encoding": {
        "x": {"field": "hour", "type": "quantitative", "scale": {"domain": [0, 725], "nice": false, "zero": false},
          "axis": {"orient": "bottom", "values": [0, 65.909, 131.818, 197.727, 263.636, 329.545, 395.455, 461.364, 527.273, 593.182, 659.091, 725], "format": ".0f", "ticks": false, "labelPadding": 19.1, "title": "Hour of Month", "titleBaseline": "alphabetic", "titleY": 87}},
        "y": {"field": "K", "type": "quantitative", "scale": {"domain": [270, 330], "nice": false, "zero": false},
          "axis": {"orient": "left", "values": [270, 280, 290, 300, 310, 320, 330], "ticks": false, "labelPadding": 11.6, "labelFlush": true, "labelFlushOffset": 7, "title": "Unit: K", "titleBaseline": "alphabetic", "titleAngle": 270, "titleX": -96.6}},
        "color": {"field": "series", "type": "nominal",
          "scale": {"domain": ["ARM Tskin", "CLM4 Tskin", "CLM4-ARM forced Tskin"], "range": ["#0014ff", "#ffc800", "#0a7d0a"]},
          "legend": {"title": null, "orient": "none", "legendX": 657, "legendY": 437.4, "symbolType": "stroke", "symbolSize": 30625, "symbolStrokeWidth": 6, "clipHeight": 40, "labelFont": "Liberation Serif", "labelFontSize": 37.5, "labelColor": "black", "labelOffset": 25.4, "labelLimit": 1000, "rowPadding": 6, "padding": 0}},
        "strokeDash": {"field": "series", "type": "nominal",
          "scale": {"domain": ["ARM Tskin", "CLM4 Tskin", "CLM4-ARM forced Tskin"], "range": [[1, 0], [22, 22], [22, 22]]},
          "legend": {"title": null, "orient": "none", "legendX": 657, "legendY": 437.4, "symbolType": "stroke", "symbolSize": 30625, "symbolStrokeWidth": 6, "clipHeight": 40, "labelFont": "Liberation Serif", "labelFontSize": 37.5, "labelColor": "black", "labelOffset": 25.4, "labelLimit": 1000, "rowPadding": 6, "padding": 0}}
      }
    },
    {
      "data": {"name": "redEllipse"},
      "mark": {"type": "point", "shape": "M -1 0 C -1 -0.0963 -0.5523 -0.1743 0 -0.1743 C 0.5523 -0.1743 1 -0.0963 1 0 C 1 0.0963 0.5523 0.1743 0 0.1743 C -0.5523 0.1743 -1 0.0963 -1 0 Z", "size": 1901641, "filled": false, "stroke": "#ff0000", "strokeWidth": 5.5, "opacity": 1},
      "encoding": {
        "x": {"field": "hour", "type": "quantitative", "scale": {"domain": [0, 725], "nice": false, "zero": false},
          "axis": {"orient": "bottom", "values": [0, 65.909, 131.818, 197.727, 263.636, 329.545, 395.455, 461.364, 527.273, 593.182, 659.091, 725], "labels": false, "tickSize": -15, "title": null}},
        "y": {"field": "K", "type": "quantitative", "scale": {"domain": [270, 330], "nice": false, "zero": false},
          "axis": {"orient": "left", "values": [270, 280, 290, 300, 310, 320, 330], "labels": false, "tickSize": -31, "title": null}}
      }
    },
    {
      "data": {"name": "arrow"},
      "mark": {"type": "rule", "stroke": "black", "strokeWidth": 2.2},
      "encoding": {
        "x": {"field": "hour", "type": "quantitative", "scale": {"domain": [0, 725], "nice": false, "zero": false},
          "axis": {"orient": "bottom", "values": [13.18, 26.36, 39.55, 52.73, 79.09, 92.27, 105.45, 118.64, 145.0, 158.18, 171.36, 184.55, 210.91, 224.09, 237.27, 250.45, 276.82, 290.0, 303.18, 316.36, 342.73, 355.91, 369.09, 382.27, 408.64, 421.82, 435.0, 448.18, 474.55, 487.73, 500.91, 514.09, 540.45, 553.64, 566.82, 580.0, 606.36, 619.55, 632.73, 645.91, 672.27, 685.45, 698.64, 711.82], "labels": false, "tickSize": -8.5, "title": null}},
        "y": {"field": "K", "type": "quantitative", "scale": {"domain": [270, 330], "nice": false, "zero": false},
          "axis": {"orient": "left", "values": [272, 274, 276, 278, 282, 284, 286, 288, 292, 294, 296, 298, 302, 304, 306, 308, 312, 314, 316, 318, 322, 324, 326, 328], "labels": false, "tickSize": -16.5, "title": null}},
        "x2": {"field": "hour2"},
        "y2": {"field": "K2"}
      }
    },
    {
      "data": {"name": "arrow"},
      "mark": {"type": "point", "shape": "M -1 -0.55 L 0 0 L -1 0.55", "size": 1225, "angle": -37.5, "filled": false, "stroke": "black", "strokeWidth": 2.4, "opacity": 1},
      "encoding": {
        "x": {"field": "hour2", "type": "quantitative", "scale": {"domain": [0, 725], "nice": false, "zero": false},
          "axis": {"orient": "top", "values": [0, 65.909, 131.818, 197.727, 263.636, 329.545, 395.455, 461.364, 527.273, 593.182, 659.091, 725], "labels": false, "tickSize": -15, "title": null}},
        "y": {"field": "K2", "type": "quantitative", "scale": {"domain": [270, 330], "nice": false, "zero": false},
          "axis": {"orient": "right", "values": [270, 280, 290, 300, 310, 320, 330], "labels": false, "tickSize": -31, "title": null}}
      }
    },
    {
      "data": {"name": "note"},
      "mark": {"type": "text", "align": "left", "baseline": "alphabetic", "font": "Lato", "fontWeight": "bold", "fontSize": 46.5, "color": "black"},
      "encoding": {
        "x": {"field": "hour", "type": "quantitative", "scale": {"domain": [0, 725], "nice": false, "zero": false},
          "axis": {"orient": "top", "values": [13.18, 26.36, 39.55, 52.73, 79.09, 92.27, 105.45, 118.64, 145.0, 158.18, 171.36, 184.55, 210.91, 224.09, 237.27, 250.45, 276.82, 290.0, 303.18, 316.36, 342.73, 355.91, 369.09, 382.27, 408.64, 421.82, 435.0, 448.18, 474.55, 487.73, 500.91, 514.09, 540.45, 553.64, 566.82, 580.0, 606.36, 619.55, 632.73, 645.91, 672.27, 685.45, 698.64, 711.82], "labels": false, "tickSize": -8.5, "title": null}},
        "y": {"field": "K", "type": "quantitative", "scale": {"domain": [270, 330], "nice": false, "zero": false},
          "axis": {"orient": "right", "values": [272, 274, 276, 278, 282, 284, 286, 288, 292, 294, 296, 298, 302, 304, 306, 308, 312, 314, 316, 318, 322, 324, 326, 328], "labels": false, "tickSize": -16.5, "title": null}},
        "text": {"field": "text", "type": "nominal"}
      }
    },
    {
      "data": {"name": "greenEllipse"},
      "mark": {"type": "point", "shape": "M -1 0 C -1 -0.2673 -0.5523 -0.484 0 -0.484 C 0.5523 -0.484 1 -0.2673 1 0 C 1 0.2673 0.5523 0.484 0 0.484 C -0.5523 0.484 -1 0.2673 -1 0 Z", "size": 15376, "filled": false, "stroke": "#00a651", "strokeWidth": 3, "opacity": 1},
      "encoding": {
        "x": {"field": "hour", "type": "quantitative", "scale": {"domain": [0, 725], "nice": false, "zero": false}, "axis": null},
        "y": {"field": "K", "type": "quantitative", "scale": {"domain": [270, 330], "nice": false, "zero": false}, "axis": null}
      }
    }
  ]
}
